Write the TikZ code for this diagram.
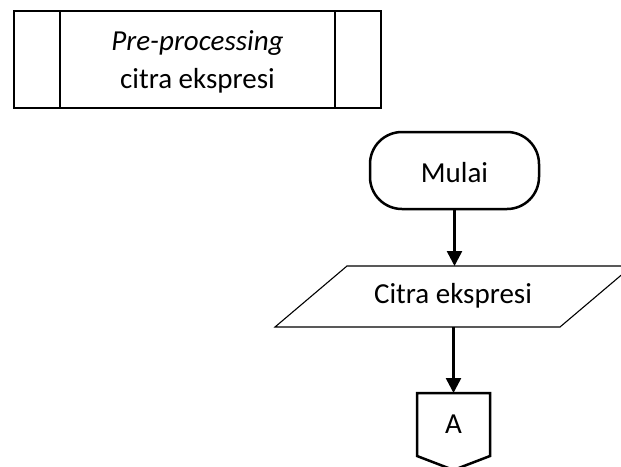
\documentclass[tikz,border=0pt]{standalone}
\usepackage{fontspec}
\setmainfont{Carlito}
\usetikzlibrary{arrows.meta}
\begin{document}
\begin{tikzpicture}[x=1pt,y=-1pt,
  heavy/.style={line width=2.5pt},
  labeltext/.style={font=\fontsize{29}{35}\selectfont, inner sep=0pt, anchor=base},
  flow/.style={line width=2.5pt, -{Triangle[length=15pt,width=15pt]}},
]
\useasboundingbox (0,0) rectangle (621,466);

% predefined process box
\node[draw, line width=2.6pt, minimum width=367pt, minimum height=97pt,
      inner sep=0pt, outer sep=0pt] (proc) at (197.5,59.5) {};
\draw[line width=2.6pt] ([xshift=46pt]proc.north west) -- ([xshift=46pt]proc.south west);
\draw[line width=2.6pt] ([xshift=-46pt]proc.north east) -- ([xshift=-46pt]proc.south east);
\node[labeltext] (proctitle) at (197.5,50) {\itshape Pre-processing};
\node[labeltext] (procsub) at (197.5,88) {citra ekspresi};

% terminal
\node[draw, heavy, rounded corners=32pt, minimum width=169pt, minimum height=77pt,
      inner sep=0pt, outer sep=0pt] (start) at (454.5,170.5) {};
\node[labeltext] (startlbl) at (454.5,182) {Mulai};

% input / output (parallelogram, slanted 72pt over its 61pt height)
\node[inner sep=0pt, outer sep=0pt, minimum width=285pt, minimum height=61pt] (io) at (453.5,296.5) {};
\draw[line width=1.1pt] ([xshift=-36pt]io.south west) -- ([xshift=36pt]io.north west)
  -- ([xshift=36pt]io.north east) -- ([xshift=-36pt]io.south east) -- cycle;
\node[labeltext] (iolbl) at (453,303) {Citra ekspresi};

% off-page connector
\node[inner sep=0pt, outer sep=0pt, minimum width=73pt, minimum height=63pt] (conn) at (453.5,424.5) {};
\draw[heavy, line join=miter] (conn.north west) -- (conn.north east) -- (conn.south east)
  -- ([yshift=-14pt]conn.south) -- (conn.south west) -- cycle;
\node[labeltext] (connlbl) at (453.5,433) {A};

% connectors
\draw[flow] (start.south) -- (start.south |- io.north);
\draw[flow] (io.south) -- (conn.north);
\end{tikzpicture}
\end{document}
